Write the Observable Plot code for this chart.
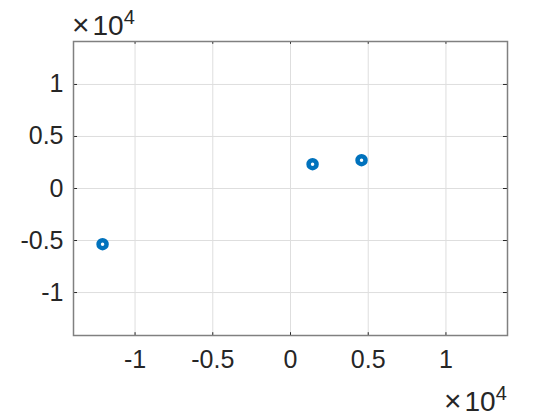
<!DOCTYPE html>
<html><head><meta charset="utf-8">
<script src="https://cdn.jsdelivr.net/npm/d3@7"></script>
<script src="https://cdn.jsdelivr.net/npm/@observablehq/plot@0.6"></script>
<style>
body{margin:0;background:#fff;}
#wrap{position:relative;width:560px;height:420px;font-family:"Liberation Sans",Arial,sans-serif;color:#262626;}
.exp{position:absolute;font-size:28px;line-height:1;white-space:nowrap;}
.exp .x{font-size:30px;}
.exp .m{margin-left:3px;}
.exp sup{font-size:20px;vertical-align:0;position:relative;top:-11px;margin-left:0px;}
</style></head><body>
<div id="wrap"></div>
<script>
const xs = [-12090, 1420, 4570];
const ys = [-5350, 2340, 2720];
const xTicks = [-10000, -5000, 0, 5000, 10000];
const yTicks = [-10000, -5000, 0, 5000, 10000];
const pts = xs.map((x, i) => ({x, y: ys[i]}));
const fmt = d => String(d / 1e4);
const X0 = -13960, X1 = 13960, Y0 = -14130, Y1 = 14130;
const plot = Plot.plot({
  width: 560, height: 420,
  marginLeft: 73, marginRight: 53, marginTop: 41, marginBottom: 85,
  style: {fontFamily: '"Liberation Sans", Arial, sans-serif', fontSize: "25px", color: "#262626", background: "#fff"},
  x: {domain: [X0, X1]},
  y: {domain: [Y0, Y1]},
  marks: [
    Plot.gridX(xTicks, {stroke: "#dedede", strokeOpacity: 1, strokeWidth: 1}),
    Plot.gridY(yTicks, {stroke: "#dedede", strokeOpacity: 1, strokeWidth: 1}),
    Plot.axisX(xTicks, {anchor: "bottom", tickSize: 0, tickPadding: 15, tickFormat: fmt, label: null, fill: "#262626", fontSize: 25}),
    Plot.axisY(yTicks, {anchor: "left", tickSize: 0, tickPadding: 10, tickFormat: fmt, label: null, fill: "#262626", fontSize: 25}),
    Plot.ruleX(xTicks, {x: d => d, y1: Y0, y2: Y0 + 270, stroke: "#262626"}),
    Plot.ruleX(xTicks, {x: d => d, y1: Y1 - 270, y2: Y1, stroke: "#262626"}),
    Plot.ruleY(yTicks, {y: d => d, x1: X0, x2: X0 + 260, stroke: "#262626"}),
    Plot.ruleY(yTicks, {y: d => d, x1: X1 - 260, x2: X1, stroke: "#262626"}),
    Plot.frame({stroke: "#808080", strokeWidth: 1.5}),
    Plot.dot(pts, {x: "x", y: "y", r: 4, stroke: "#0072BD", strokeWidth: 4.5, fill: "#fff"})
  ]
});
const wrap = document.getElementById("wrap");
wrap.appendChild(plot);
const e1 = document.createElement("div");
e1.className = "exp"; e1.innerHTML = "<span class='x'>×</span><span class='m'>10</span><sup>4</sup>";
e1.style.left = "72px"; e1.style.top = "10px";
wrap.appendChild(e1);
const e2 = document.createElement("div");
e2.className = "exp"; e2.innerHTML = "<span class='x'>×</span><span class='m'>10</span><sup>4</sup>";
e2.style.left = "444px"; e2.style.top = "386px";
wrap.appendChild(e2);
</script>
</body></html>
